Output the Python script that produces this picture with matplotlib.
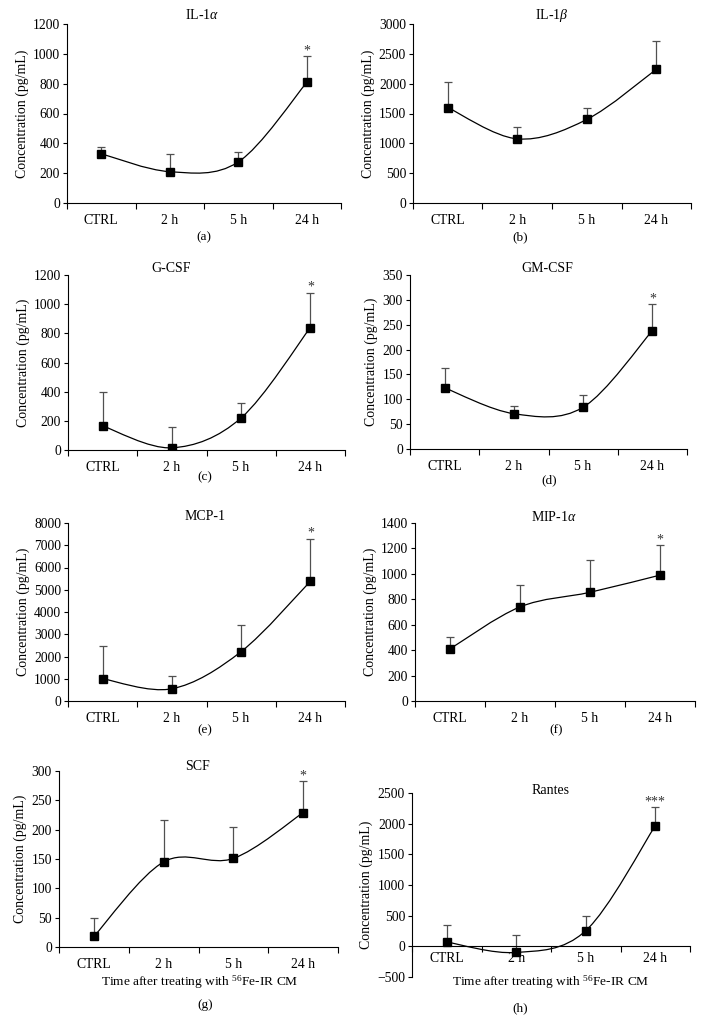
import numpy as np
import matplotlib
matplotlib.use("Agg")
import matplotlib.pyplot as plt
from matplotlib.path import Path
from matplotlib.patches import PathPatch

plt.rcParams['font.family'] = ['Liberation Serif', 'DejaVu Serif']
plt.rcParams['mathtext.fontset'] = 'custom'
plt.rcParams['mathtext.rm'] = 'Liberation Serif'
plt.rcParams['mathtext.it'] = 'Liberation Serif:italic'

# Données
times = ["CTRL", "2 h", "5 h", "24 h"]

il1a = [330, 210, 275, 808]
il1a_err = [45, 120, 67, 175]
il1b = [1600, 1075, 1400, 2240]
il1b_err = [420, 200, 200, 480]
gcsf = [165, 15, 220, 840]
gcsf_err = [230, 145, 100, 240]
gmcsf = [123, 71, 84, 238]
gmcsf_err = [40, 15, 24, 54]
mcp1 = [1000, 550, 2220, 5380]
mcp1_err = [1480, 580, 1200, 1920]
mip1a = [410, 740, 855, 990]
mip1a_err = [90, 175, 255, 235]
scf = [18, 145, 151, 229]
scf_err = [31, 71, 54, 54]
rantes = [70, -100, 255, 1965]
rantes_err = [275, 290, 245, 300]

W, H = 703, 1023
fig = plt.figure(figsize=(W/100, H/100), dpi=100)


def px_axes(l, r, t, b):
    return fig.add_axes([l/W, 1 - b/H, (r - l)/W, (b - t)/H])


def smooth(ax, y):
    # courbe lissée type Excel (Catmull-Rom -> Bezier)
    pts = np.column_stack([np.arange(len(y)), y]).astype(float)
    n = len(pts)
    verts = [pts[0]]
    codes = [Path.MOVETO]
    for i in range(n - 1):
        p0 = pts[i - 1] if i > 0 else pts[i]
        p1, p2 = pts[i], pts[i + 1]
        p3 = pts[i + 2] if i + 2 < n else pts[i + 1]
        verts += [p1 + (p2 - p0)/6, p2 - (p3 - p1)/6, p2]
        codes += [Path.CURVE4]*3
    ax.add_patch(PathPatch(Path(verts, codes), fc='none', ec='black',
                           lw=0.9, zorder=2))


panels = [
    # (valeurs, erreurs, ymax, pas, ymin, étoiles, position axes, titre, lettre)
    (il1a, il1a_err, 1200, 200, 0, "*", (67, 341, 24, 203),
     "IL-1$\\it{\\alpha}$", (202, 15), "(a)", (204, 237)),
    (il1b, il1b_err, 3000, 500, 0, "", (413, 691, 24, 203),
     "IL-1$\\it{\\beta}$", (552, 15), "(b)", (520, 237)),
    (gcsf, gcsf_err, 1200, 200, 0, "*", (68, 345, 275, 450),
     "G-CSF", (171, 269), "(c)", (205, 477)),
    (gmcsf, gmcsf_err, 350, 50, 0, "*", (410, 687, 275, 449),
     "GM-CSF", (547, 269), "(d)", (549, 480)),
    (mcp1, mcp1_err, 8000, 1000, 0, "*", (68, 345, 523, 701),
     "MCP-1", (205, 517), "(e)", (205, 730)),
    (mip1a, mip1a_err, 1400, 200, 0, "*", (415, 695, 523, 701),
     "MIP-1$\\it{\\alpha}$", (554, 517), "(f)", (556, 730)),
    (scf, scf_err, 300, 50, 0, "*", (59, 338, 771, 947),
     "SCF", (197, 766), "(g)", (205, 1005)),
    (rantes, rantes_err, 2500, 500, -500, "***", (412, 690, 793, 977),
     "Rantes", (551, 790), "(h)", (520, 1008)),
]

for vals, errs, ymax, step, ymin, star, pos, title, tpos, letter, lpos in panels:
    ax = px_axes(*pos)
    x = np.arange(len(vals))
    ax.errorbar(x, vals, yerr=[[0]*len(errs), errs], fmt='none',
                ecolor='#505050', elinewidth=0.9, capsize=3, capthick=0.9,
                zorder=1)
    smooth(ax, vals)
    ax.plot(x, vals, 's', color='black', ms=6, zorder=3)
    if star:
        ax.annotate(star, (x[-1], vals[-1] + errs[-1]), xytext=(0, -1),
                    textcoords='offset points', ha='center', va='bottom',
                    fontsize=10, color='#333333')
    ax.set_xlim(-0.5, 3.5)
    ax.set_ylim(ymin, ymax)
    ax.set_yticks(np.arange(ymin, ymax + 1, step))
    ax.set_xticks(np.arange(-0.5, 4, 1))
    ax.set_xticklabels([])
    ax.set_xticks(x, minor=True)
    ax.set_xticklabels(times, minor=True)
    ax.tick_params(axis='x', which='minor', length=0, pad=8, labelsize=9.8)
    ax.tick_params(axis='x', which='major', length=4, width=0.8)
    ax.tick_params(axis='y', length=3, width=0.8, labelsize=9.8, pad=2)
    for s in ['top', 'right']:
        ax.spines[s].set_visible(False)
    for s in ['left', 'bottom']:
        ax.spines[s].set_linewidth(0.8)
    if ymin < 0:
        ax.spines['bottom'].set_position(('data', 0))
        ax.tick_params(axis='x', which='minor', pad=4)
    ax.set_ylabel("Concentration (pg/mL)", fontsize=10, labelpad=3)
    fig.text(tpos[0]/W, 1 - tpos[1]/H, title, ha='center', va='center',
             fontsize=10)
    fig.text(lpos[0]/W, 1 - lpos[1]/H, letter, ha='center', va='center',
             fontsize=9.5)

for xc in (200, 551):
    fig.text(xc/W, 1 - 982/H, "Time after treating with $^{56}$Fe-IR CM",
             ha='center', va='center', fontsize=9.6)

fig.savefig("out.png", dpi=100)
